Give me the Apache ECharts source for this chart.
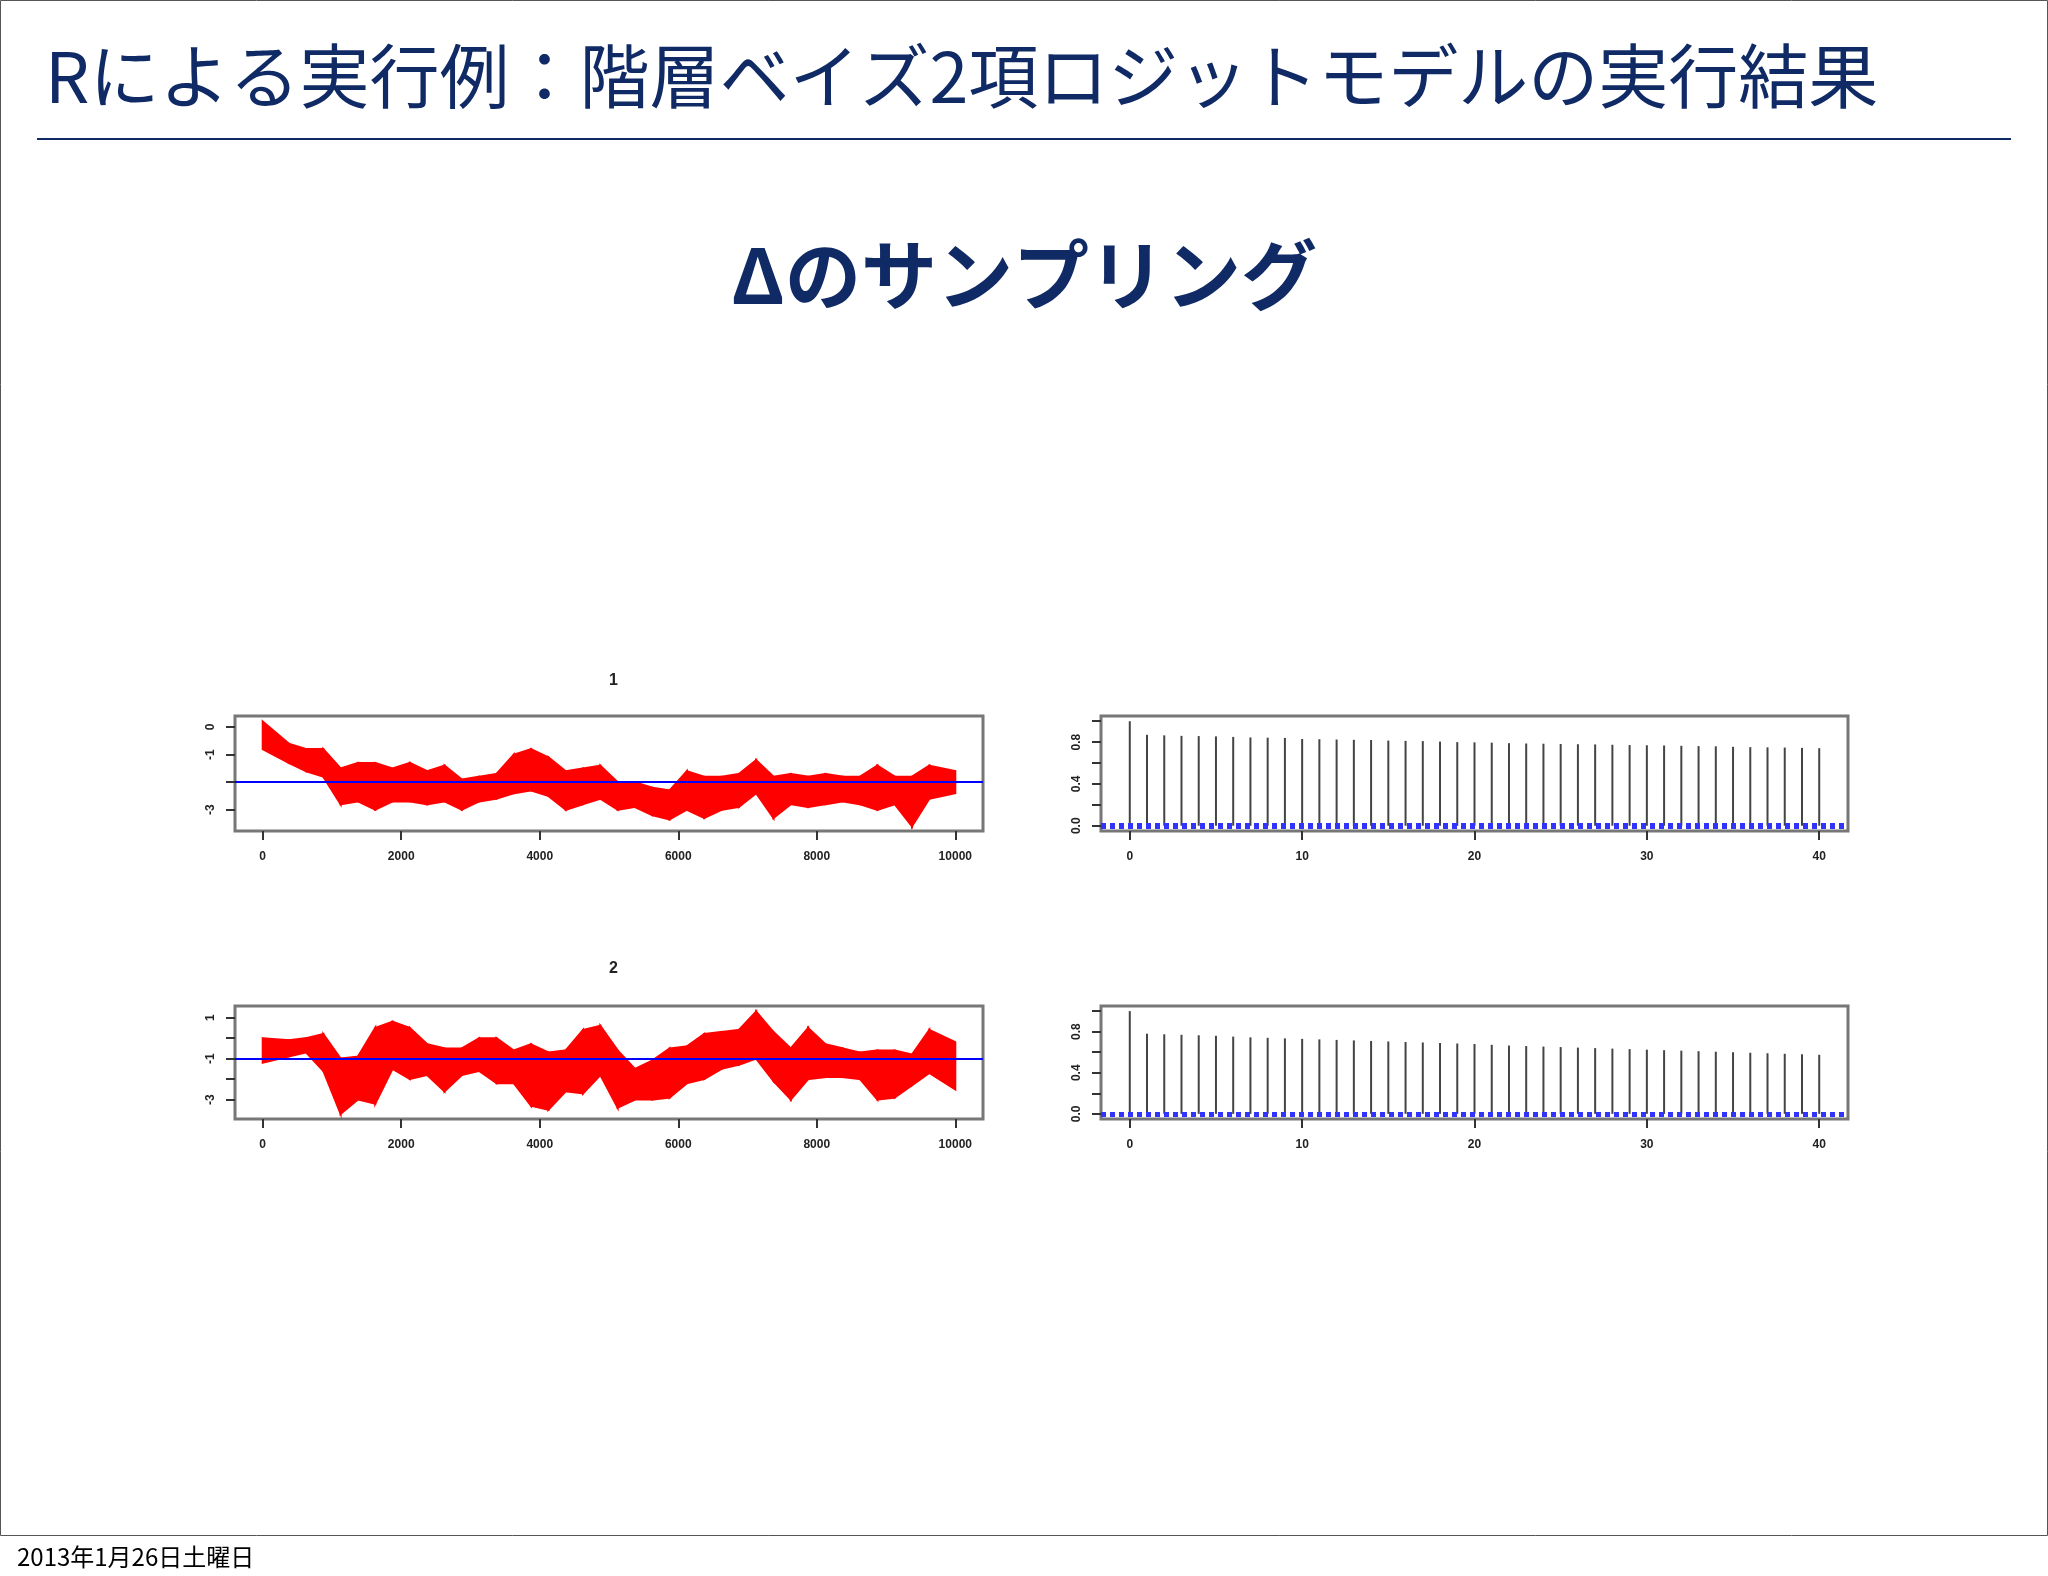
<!DOCTYPE html>
<html><head><meta charset="utf-8">
<script src="https://cdn.jsdelivr.net/npm/echarts@6/dist/echarts.min.js"></script>
<style>html,body{margin:0;padding:0;background:#fff}#c{width:2048px;height:1576px}</style>
</head><body><div id="c"></div>
<script>
const titleText = "Rによる実行例：階層ベイズ2項ロジットモデルの実行結果";
const subTitle = "Δのサンプリング";
const dateText = "2013年1月26日土曜日";
const bucketSize = 250;
const trace1Hi = [0.2,-0.6,-0.8,-0.8,-1.5,-1.3,-1.3,-1.5,-1.3,-1.6,-1.4,-1.9,-1.8,-1.7,-1.0,-0.8,-1.1,-1.6,-1.5,-1.4,-2.0,-2.0,-2.2,-2.3,-1.6,-1.8,-1.8,-1.7,-1.2,-1.8,-1.7,-1.8,-1.7,-1.8,-1.8,-1.4,-1.8,-1.8,-1.4,-1.6];
const trace1Lo = [-0.8,-1.3,-1.6,-1.8,-2.8,-2.7,-3.0,-2.7,-2.7,-2.8,-2.7,-3.0,-2.7,-2.6,-2.4,-2.3,-2.5,-3.0,-2.8,-2.6,-3.0,-2.9,-3.2,-3.35,-3.0,-3.3,-3.0,-2.9,-2.4,-3.3,-2.8,-2.9,-2.8,-2.7,-2.8,-3.0,-2.8,-3.6,-2.6,-2.4];
const trace1Mean = -2;
const trace2Hi = [0.0,-0.1,0.0,0.2,-1.0,-0.9,0.5,0.8,0.5,-0.3,-0.5,-0.5,0.0,0.0,-0.6,-0.3,-0.7,-0.6,0.4,0.6,-0.6,-1.5,-1.1,-0.5,-0.4,0.2,0.3,0.4,1.3,0.3,-0.5,0.5,-0.3,-0.5,-0.7,-0.6,-0.6,-0.8,0.4,-0.2];
const trace2Lo = [-1.2,-0.9,-0.7,-1.6,-3.7,-3.0,-3.2,-1.5,-2.0,-1.8,-2.6,-1.8,-1.6,-2.2,-2.2,-3.3,-3.5,-2.6,-2.7,-1.8,-3.4,-3.0,-3.0,-2.9,-2.2,-2.0,-1.5,-1.3,-1.0,-2.1,-3.0,-2.0,-1.9,-1.9,-2.0,-3.0,-2.9,-2.3,-1.7,-2.5];
const trace2Mean = -1;
const traceTicksX = [0,2000,4000,6000,8000,10000];
const trace1TicksY = [0,-1,-2,-3], trace1LabelsY = [0,-1,-3];
const trace2TicksY = [1,0,-1,-2,-3], trace2LabelsY = [1,-1,-3];
const acfTicksX = [0,10,20,30,40];
const acfTicksY = [0,0.2,0.4,0.6,0.8,1.0], acfLabelsY = [0,0.4,0.8];
const lags = Array.from({length:41},(_,i)=>i);
const acf1 = [1,0.87,0.865,0.86,0.858,0.855,0.85,0.845,0.843,0.84,0.83,0.828,0.825,0.822,0.82,0.815,0.812,0.81,0.805,0.8,0.798,0.795,0.79,0.787,0.785,0.782,0.78,0.778,0.775,0.772,0.77,0.768,0.765,0.762,0.76,0.755,0.752,0.75,0.748,0.745,0.742];
const acf2 = [1,0.78,0.775,0.77,0.765,0.76,0.752,0.745,0.74,0.735,0.73,0.725,0.72,0.715,0.71,0.705,0.7,0.695,0.69,0.685,0.68,0.672,0.665,0.66,0.655,0.65,0.645,0.64,0.635,0.63,0.625,0.62,0.615,0.61,0.605,0.6,0.595,0.59,0.585,0.58,0.575];

const F = 'Liberation Sans, Arial, sans-serif';
const lab = {fontFamily:F,fontSize:12,fontWeight:'bold',color:'#222'};
const axLine = {show:false,onZero:false};
function xAxis(g,min,max,ticks){return {gridIndex:g,type:'value',min,max,position:'bottom',offset:0,
  axisLine:axLine,axisTick:{show:true,length:9,customValues:ticks,lineStyle:{color:'#333',width:2}},
  axisLabel:{...lab,margin:20,customValues:ticks,formatter:v=>String(v)},splitLine:{show:false}};}
function yAxis(g,min,max,ticks,labels,dec){return {gridIndex:g,type:'value',min,max,offset:0,
  axisLine:axLine,axisTick:{show:true,length:9,customValues:ticks,lineStyle:{color:'#333',width:2}},
  axisLabel:{...lab,rotate:90,margin:18,customValues:labels,formatter:v=>dec?v.toFixed(1):String(v)},splitLine:{show:false}};}

const grids=[
 {left:235,top:716,width:748,height:115},
 {left:1101,top:716,width:747,height:115},
 {left:235,top:1006,width:748,height:113},
 {left:1101,top:1006,width:747,height:113}
].map(g=>({...g,show:true,borderColor:'#777',borderWidth:3,backgroundColor:'transparent'}));

const xa=[xAxis(0,-400,10400,traceTicksX),xAxis(1,-1.67,41.67,acfTicksX),xAxis(2,-400,10400,traceTicksX),xAxis(3,-1.67,41.67,acfTicksX)];
const ya=[yAxis(0,-3.77,0.4,trace1TicksY,trace1LabelsY),yAxis(1,-0.05,1.05,acfTicksY,acfLabelsY,true),yAxis(2,-3.95,1.57,trace2TicksY,trace2LabelsY),yAxis(3,-0.05,1.05,acfTicksY,acfLabelsY,true)];

function traceSeries(i,hi,lo,mean){
 const n=hi.length, data=[];
 for(let k=0;k<n-1;k++){
   const x0=k*bucketSize+(k===0?0:bucketSize/2), x1=(k+1)*bucketSize+(k+1===n-1?bucketSize:bucketSize/2);
   data.push([x0,hi[k],lo[k],x1,hi[k+1],lo[k+1]]);
 }
 return {type:'custom',xAxisIndex:i,yAxisIndex:i,data,clip:true,z:2,
  encode:{x:[0,3],y:[1,2,4,5]},
  renderItem:(params,api)=>{
    const a=api.coord([api.value(0),api.value(1)]),b=api.coord([api.value(3),api.value(4)]),
          c=api.coord([api.value(3),api.value(5)]),d=api.coord([api.value(0),api.value(2)]);
    return {type:'polygon',shape:{points:[a,b,c,d]},style:{fill:'#ff0000',stroke:'#ff0000',lineWidth:2}};
  },
  markLine:{silent:true,symbol:'none',label:{show:false},lineStyle:{color:'#0000ff',width:2,type:'solid'},data:[{yAxis:mean}],z:5}};
}
function acfSeries(i,vals){return {type:'bar',xAxisIndex:i,yAxisIndex:i,data:lags.map((l,k)=>[l,vals[k]]),barWidth:2,itemStyle:{color:'#444'},
  markLine:{silent:true,symbol:'none',label:{show:false},lineStyle:{color:'#3333ff',width:3,type:[5,4]},data:[{yAxis:0.012},{yAxis:-0.012}]}};}

const chart=echarts.init(document.getElementById('c'),null,{renderer:'canvas'});
chart.setOption({
 animation:false,backgroundColor:'#fff',
 title:[
  {text:titleText,left:40,top:36,textStyle:{fontFamily:'Noto Sans CJK JP',fontSize:70,fontWeight:'normal',color:'#102a66'}},
  {text:subTitle,left:'center',top:232,textStyle:{fontFamily:'Noto Sans CJK JP',fontSize:76,fontWeight:'bold',color:'#102a66'}},
  {text:'1',left:604,top:668,textStyle:{fontFamily:F,fontSize:16,fontWeight:'bold',color:'#222'}},
  {text:'2',left:604,top:956,textStyle:{fontFamily:F,fontSize:16,fontWeight:'bold',color:'#222'}},
  {text:dateText,left:12,top:1540,textStyle:{fontFamily:'Noto Sans CJK JP',fontSize:24,fontWeight:'normal',color:'#000'}}
 ],
 graphic:[
  {type:'line',shape:{x1:37,y1:139,x2:2011,y2:139},style:{stroke:'#102a66',lineWidth:2}},
  {type:'rect',shape:{x:0.5,y:0.5,width:2047,height:1535},style:{fill:'none',stroke:'#555',lineWidth:1}}
 ],
 grid:grids,xAxis:xa,yAxis:ya,
 series:[traceSeries(0,trace1Hi,trace1Lo,trace1Mean),acfSeries(1,acf1),traceSeries(2,trace2Hi,trace2Lo,trace2Mean),acfSeries(3,acf2)]
});
</script></body></html>
